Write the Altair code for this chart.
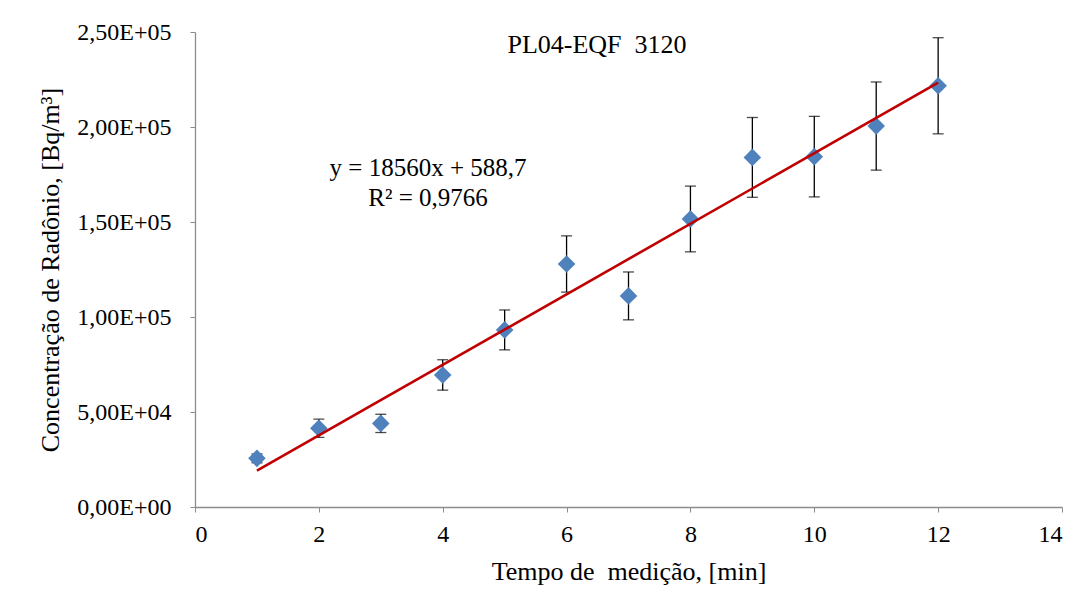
import altair as alt
import pandas as pd

# --- data ---
tempo = [1, 2, 3, 4, 5, 6, 7, 8, 9, 10, 11, 12]
concentracao = [25600, 41400, 44000, 69500, 93200, 127900, 111100, 151600, 184000, 184400, 200500, 221700]
erro = [2300, 4800, 4800, 8000, 10500, 14800, 12600, 17300, 21000, 21200, 23200, 25300]

trend_x = [1, 12]
trend_y = [19148.7, 223308.7]  # y = 18560x + 588,7 at x = 1 and x = 12

x_ticks = [0, 2, 4, 6, 8, 10, 12, 14]
y_ticks = [0, 50000, 100000, 150000, 200000, 250000]

titulo = "PL04-EQF\u00a0 3120"
equacao = "y = 18560x + 588,7"
r2 = "R² = 0,9766"

df = pd.DataFrame({"t": tempo, "c": concentracao, "e": erro})
df["lo"] = df["c"] - df["e"]
df["hi"] = df["c"] + df["e"]
df_trend = pd.DataFrame({"t": trend_x, "c": trend_y})

FONT = "Liberation Serif"
AX_COLOR = "#8c8c8c"

x_enc = alt.X(
    "t:Q",
    scale=alt.Scale(domain=[0, 14], nice=False),
    axis=alt.Axis(
        values=x_ticks,
        title="Tempo de\u00a0 medição, [min]",
        grid=False,
        labelFontSize=24,
        titleFontSize=26,
        labelPadding=10,
        titlePadding=12,
    ),
)
y_enc = alt.Y(
    "c:Q",
    scale=alt.Scale(domain=[0, 250000], nice=False),
    axis=alt.Axis(
        values=y_ticks,
        title="Concentração de Radônio, [Bq/m³]",
        grid=False,
        labelFontSize=24,
        titleFontSize=26,
        labelPadding=19,
        titlePadding=13,
        labelExpr="replace(replace(format(datum.value, '.2e'), '.', ','), 'e+', 'E+0')",
    ),
)

base = alt.Chart(df)

bars = base.mark_rule(color="black", strokeWidth=1.3).encode(
    x=x_enc, y=alt.Y("lo:Q"), y2="hi:Q"
)
cap_top = base.mark_tick(color="black", orient="horizontal", size=11, thickness=1.3).encode(
    x=x_enc, y=alt.Y("hi:Q")
)
cap_bot = base.mark_tick(color="black", orient="horizontal", size=11, thickness=1.3).encode(
    x=x_enc, y=alt.Y("lo:Q")
)
points = base.mark_point(shape="diamond", filled=True, size=310, color="#4F81BD", opacity=1).encode(
    x=x_enc, y=y_enc
)
trend = alt.Chart(df_trend).mark_line(color="#C00000", strokeWidth=2.6).encode(
    x=x_enc, y=y_enc
)

title_txt = alt.Chart(pd.DataFrame({"s": [titulo]})).mark_text(
    font=FONT, fontSize=26, color="black", align="center", baseline="middle"
).encode(text="s:N", x=alt.value(402), y=alt.value(13))

eq_txt = alt.Chart(pd.DataFrame({"s": [equacao]})).mark_text(
    font=FONT, fontSize=25, color="black", align="center", baseline="middle"
).encode(text="s:N", x=alt.value(233), y=alt.value(136))

r2_txt = alt.Chart(pd.DataFrame({"s": [r2]})).mark_text(
    font=FONT, fontSize=25, color="black", align="center", baseline="middle"
).encode(text="s:N", x=alt.value(233), y=alt.value(166))

chart = (
    alt.layer(bars, cap_top, cap_bot, points, trend, title_txt, eq_txt, r2_txt)
    .properties(
        width=867,
        height=475,
        autosize=alt.AutoSizeParams(type="none"),
        padding={"left": 187, "top": 24, "right": 10, "bottom": 84},
        background="white",
    )
    .configure_view(stroke=None)
    .configure_axis(
        domainColor=AX_COLOR,
        tickColor=AX_COLOR,
        tickSize=5,
        domainWidth=1.3,
        labelFont=FONT,
        titleFont=FONT,
        labelColor="black",
        titleColor="black",
        titleFontWeight="normal",
    )
)

chart.save("out.html", embed_options={"renderer": "svg", "actions": False})
